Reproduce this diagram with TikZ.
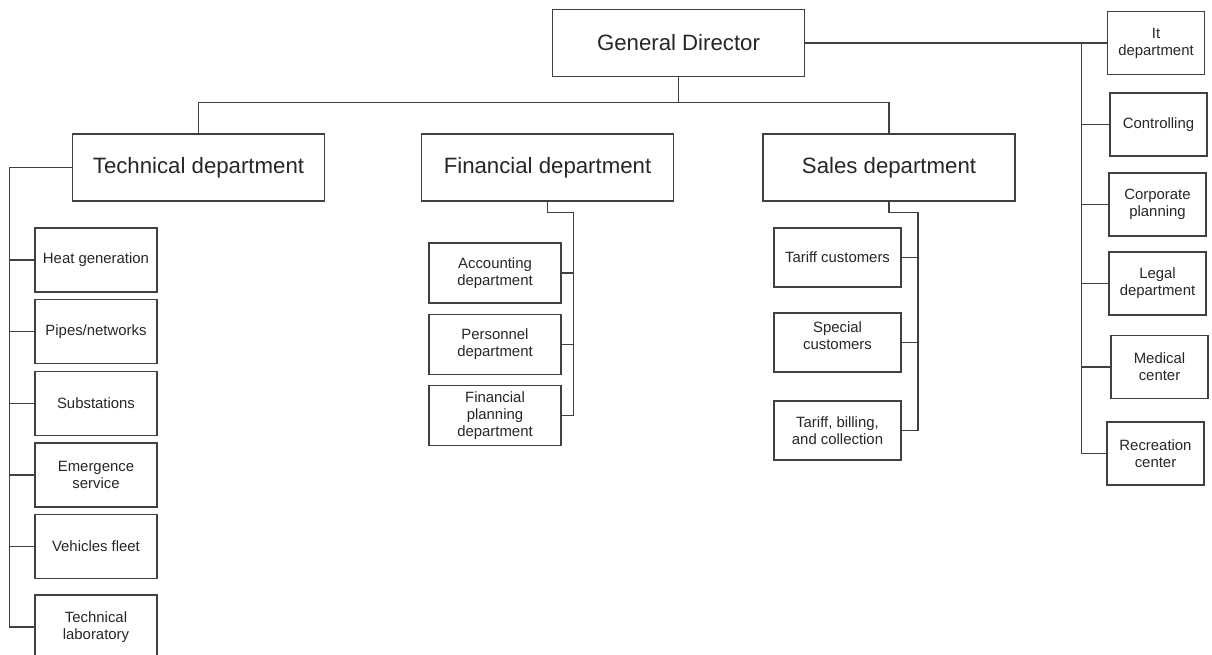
\documentclass[tikz,border=0pt]{standalone}
\usepackage{fontspec}
\setmainfont{Liberation Sans}
\begin{document}
\begin{tikzpicture}[x=0.025cm, y=-0.025cm, line width=0.8pt,
  dept/.style={draw=black!75, text=black!85, minimum width=6.3cm, minimum height=1.675cm,
    font=\fontsize{15.8}{19}\selectfont},
  unit/.style={draw=black!75, text=black!85, align=center, inner sep=1pt,
    font=\fontsize{10.6}{12.2}\selectfont},
  techunit/.style={unit, minimum width=3.05cm, minimum height=1.6cm},
  finunit/.style={unit, minimum width=3.3cm, minimum height=1.5cm},
  salesunit/.style={unit, minimum width=3.175cm, minimum height=1.475cm},
  staffunit/.style={unit, minimum width=2.425cm, minimum height=1.575cm},
  link/.style={draw=black!75}]
  \useasboundingbox (0,0) rectangle (1212,654);
  \clip (0,0) rectangle (1212,654);
  % top level
  \node[dept] (gd) at (678.5,43) {General Director};
  \node[dept] (tech) at (198.5,167.5) {Technical department};
  \node[dept] (fin) at (547.5,167.5) {Financial department};
  \node[dept] (sales) at (889,167.5) {Sales department};
  % technical units
  \node[techunit] (heat) at (96,260) {Heat generation};
  \node[techunit] (pipes) at (96,331.5) {Pipes/networks};
  \node[techunit] (subst) at (96,403.5) {Substations};
  \node[techunit] (emerg) at (96,475) {Emergence\\service};
  \node[techunit] (fleet) at (96,546.5) {Vehicles fleet};
  \node[techunit] (lab) at (96,627) {Technical\\laboratory};
  % financial units
  \node[finunit] (acc) at (495,273) {Accounting\\department};
  \node[finunit] (pers) at (495,344.5) {Personnel\\department};
  \node[finunit] (fplan) at (495,415.5) {Financial\\planning\\department};
  % sales units
  \node[salesunit] (tcust) at (837.5,257.5) {Tariff customers};
  \node[salesunit, text depth=10pt] (scust) at (837.5,342.5) {Special\\customers};
  \node[salesunit] (bill) at (837.5,430.5) {Tariff, billing,\\and collection};
  % staff units
  \node[staffunit] (itd) at (1156,43) {It\\department};
  \node[staffunit] (ctrl) at (1158.5,124.5) {Controlling};
  \node[staffunit] (corp) at (1157.5,204.5) {Corporate\\planning};
  \node[staffunit] (legal) at (1157.5,283.5) {Legal\\department};
  \node[staffunit] (med) at (1159.5,367) {Medical\\center};
  \node[staffunit] (recr) at (1155.5,453.5) {Recreation\\center};
  % connectors
  \path (gd.south) ++(0,25) coordinate (bus);
  \draw[link] (gd.south) -- (bus);
  \draw[link] (tech.north) |- (bus) -| (sales.north);
  \path (tech.west) ++(-62,0) coordinate (tbus);
  \draw[link] (tech.west) -- (tbus) |- (lab.west);
  \foreach \u in {heat,pipes,subst,emerg,fleet}
    \draw[link] (\u.west) -- (\u.west -| tbus);
  \draw[link] (fin.south) -- ++(0,11) -- ++(26,0) coordinate (fbus) |- (fplan.east);
  \foreach \u in {acc,pers}
    \draw[link] (\u.east) -- (\u.east -| fbus);
  \draw[link] (sales.south) -- ++(0,11) -- ++(29,0) coordinate (sbus) |- (bill.east);
  \foreach \u in {tcust,scust}
    \draw[link] (\u.east) -- (\u.east -| sbus);
  \draw[link] (gd.east) -- (itd.west);
  \path (itd.west) ++(-25,0) coordinate (rbus);
  \draw[link] (rbus) |- (recr.west);
  \foreach \u in {ctrl,corp,legal,med}
    \draw[link] (\u.west) -- (\u.west -| rbus);
\end{tikzpicture}
\end{document}
